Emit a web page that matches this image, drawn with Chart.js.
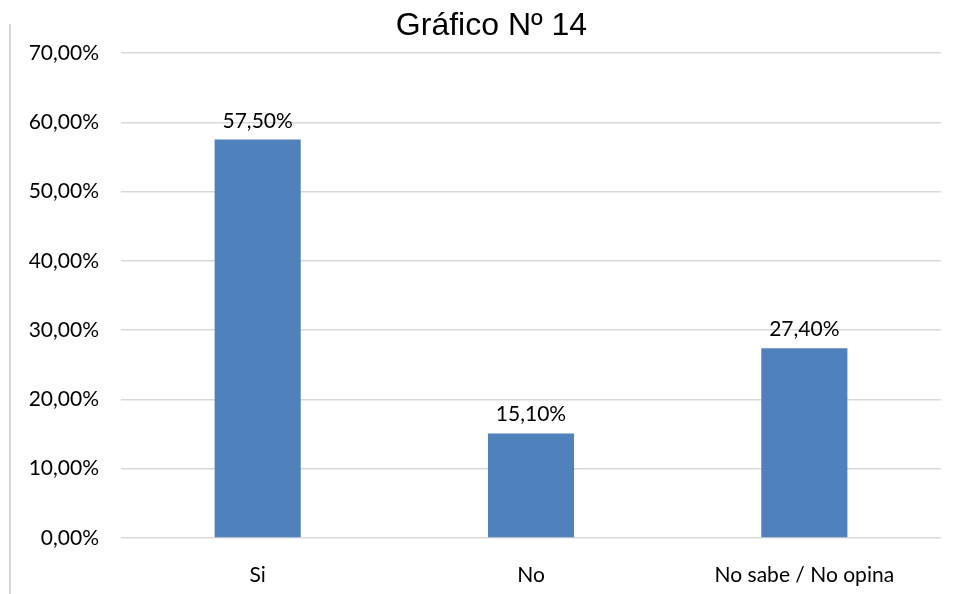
<!DOCTYPE html>
<html lang="es">
<head>
<meta charset="utf-8">
<title>Gráfico Nº 14</title>
<script src="https://cdn.jsdelivr.net/npm/chart.js@4"></script>
<style>
  html, body { margin: 0; padding: 0; background: #fff; overflow: hidden; }
  .page { position: relative; width: 959px; height: 594px; overflow: hidden; }
  .edge { position: absolute; left: 9px; top: 24px; width: 2px; height: 570px; background: #d9d9d9; }
  .frame { position: absolute; left: 11px; top: 0; width: 961px; height: 594px; }
</style>
</head>
<body>
<div class="page">
  <div class="edge"></div>
  <div class="frame"><canvas id="chart"></canvas></div>
</div>
<script>
const chartTitle = "Gráfico Nº 14";
const categories = ["Si", "No", "No sabe / No opina"];
const percentages = [57.5, 15.1, 27.4];
const yTicks = [0, 10, 20, 30, 40, 50, 60, 70];

const pct = (v) => Number(v).toFixed(2).replace(".", ",") + "%";
const labelFont = "Lato, 'Liberation Sans', sans-serif";

// title centred on the whole frame, not on the plot
const frameTitle = {
  id: "frameTitle",
  afterDraw(chart) {
    const ctx = chart.ctx;
    ctx.save();
    ctx.font = "32px 'Liberation Sans', Arial, sans-serif";
    ctx.fillStyle = "#000";
    ctx.textAlign = "center";
    ctx.textBaseline = "middle";
    ctx.fillText(chartTitle, chart.width / 2, 26);
    ctx.restore();
  },
};

// value labels above each bar
const barValues = {
  id: "barValues",
  afterDatasetsDraw(chart) {
    const ctx = chart.ctx;
    const meta = chart.getDatasetMeta(0);
    ctx.save();
    ctx.font = "21px " + labelFont;
    ctx.fillStyle = "#000";
    ctx.textAlign = "center";
    ctx.textBaseline = "alphabetic";
    meta.data.forEach((bar, i) => {
      ctx.fillText(pct(percentages[i]), bar.x, bar.y - 12);
    });
    ctx.restore();
  },
};

const ctx = document.getElementById("chart").getContext("2d");
new Chart(ctx, {
  type: "bar",
  data: {
    labels: categories,
    datasets: [
      {
        data: percentages,
        backgroundColor: "#4f81bd",
        borderWidth: 0,
        barPercentage: 0.315,
        categoryPercentage: 1,
      },
    ],
  },
  options: {
    responsive: true,
    maintainAspectRatio: false,
    animation: false,
    layout: { padding: { left: 0, right: 31, top: 53, bottom: 0 } },
    plugins: {
      legend: { display: false },
      tooltip: { enabled: false },
      title: { display: false },
    },
    scales: {
      x: {
        grid: { display: false, drawTicks: false },
        border: { display: false },
        ticks: {
          color: "#000",
          padding: 25,
          font: { family: labelFont, size: 21 },
        },
        afterFit(scale) {
          scale.height = 56;
        },
      },
      y: {
        min: yTicks[0],
        max: yTicks[yTicks.length - 1],
        grid: { color: "#d9d9d9", lineWidth: 1.5, drawTicks: false },
        border: { display: false },
        ticks: {
          stepSize: yTicks[1] - yTicks[0],
          color: "#000",
          padding: 22,
          font: { family: labelFont, size: 21 },
          callback: (v) => pct(v),
        },
        afterFit(scale) {
          scale.width = 110;
        },
      },
    },
  },
  plugins: [barValues, frameTitle],
});
</script>
</body>
</html>
